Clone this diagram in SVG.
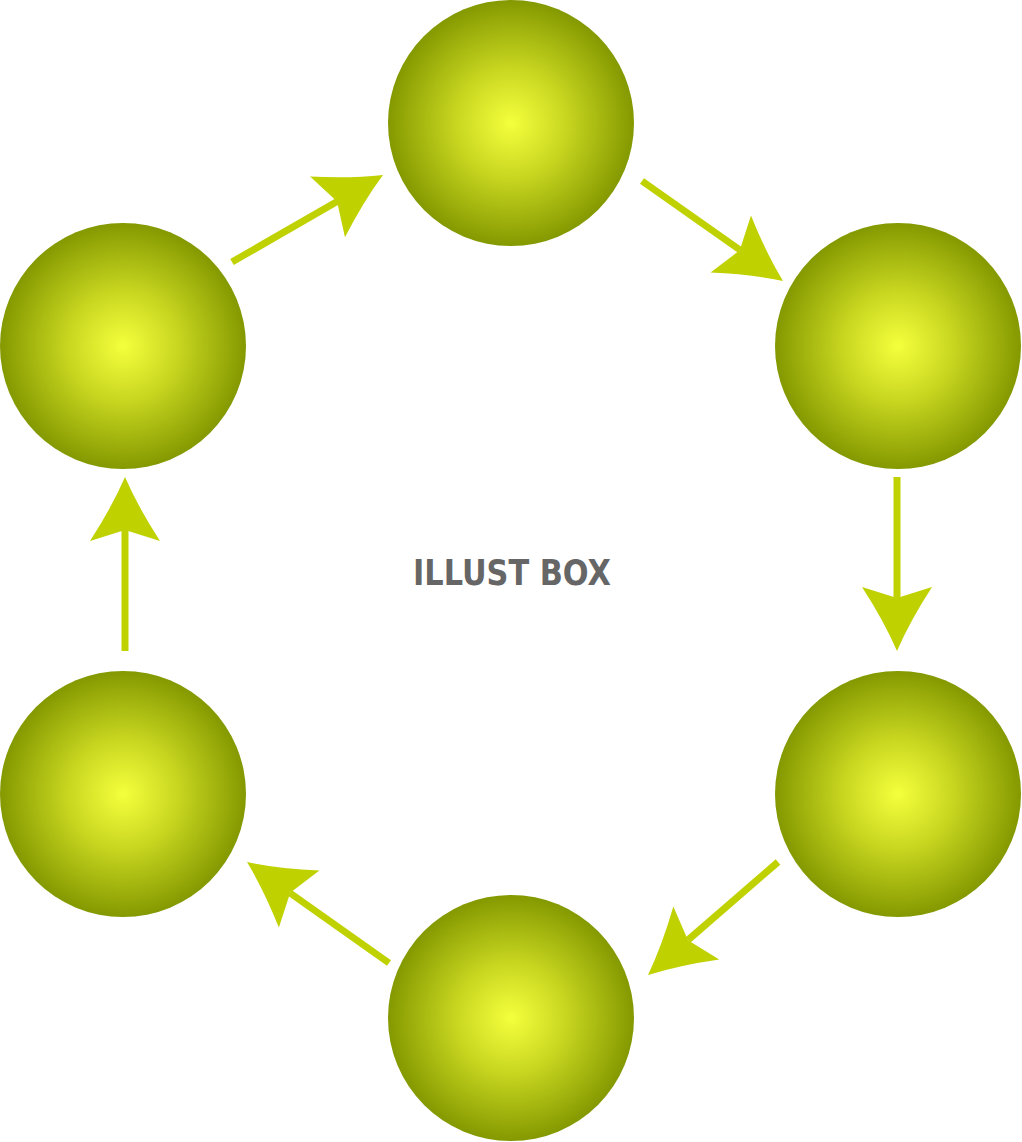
<svg xmlns="http://www.w3.org/2000/svg" width="1022" height="1142" viewBox="0 0 1022 1142">
<style>
.ball{fill:url(#g)}
.shaft{stroke:#bfd200;stroke-width:7;fill:none}
.head{fill:#bfd200}
.lbl{font-family:"DejaVu Sans","Liberation Sans",Arial,sans-serif;font-weight:bold;font-size:36px;fill:#666666}
</style>
<defs>
<radialGradient id="g" cx="0.5" cy="0.5" r="0.5">
<stop offset="0" stop-color="#f4ff3c"/>
<stop offset="0.45" stop-color="#c8d620"/>
<stop offset="1" stop-color="#849900"/>
</radialGradient>
<path id="ah" d="M0,0 Q-30,-13 -64,-35 L-53,0 L-64,35 Q-30,13 0,0 Z"/>
</defs>
<rect width="1022" height="1142" fill="#ffffff"/>
<g id="n1"><circle class="ball" cx="511" cy="123" r="123"/></g>
<g id="n2"><circle class="ball" cx="898" cy="346" r="123"/></g>
<g id="n3"><circle class="ball" cx="898" cy="794" r="123"/></g>
<g id="n4"><circle class="ball" cx="511" cy="1018" r="123"/></g>
<g id="n5"><circle class="ball" cx="123" cy="794" r="123"/></g>
<g id="n6"><circle class="ball" cx="123" cy="346" r="123"/></g>
<g id="connectors">
<line class="shaft" x1="232" y1="262" x2="338" y2="201"/>
<use href="#ah" class="head" transform="translate(383,175) rotate(-29.9)"/>
<line class="shaft" x1="642" y1="181" x2="740" y2="250"/>
<use href="#ah" class="head" transform="translate(783,281) rotate(35.3)"/>
<line class="shaft" x1="897" y1="477" x2="897" y2="600"/>
<use href="#ah" class="head" transform="translate(897,651) rotate(90)"/>
<line class="shaft" x1="778" y1="862" x2="688" y2="940"/>
<use href="#ah" class="head" transform="translate(648,975) rotate(139)"/>
<line class="shaft" x1="389" y1="963" x2="290" y2="893"/>
<use href="#ah" class="head" transform="translate(247,862) rotate(-144.6)"/>
<line class="shaft" x1="125" y1="651" x2="125" y2="528"/>
<use href="#ah" class="head" transform="translate(125,477) rotate(-90)"/>
</g>
<text class="lbl" x="512" y="585" text-anchor="middle" textLength="198" lengthAdjust="spacingAndGlyphs">ILLUST BOX</text>
</svg>
